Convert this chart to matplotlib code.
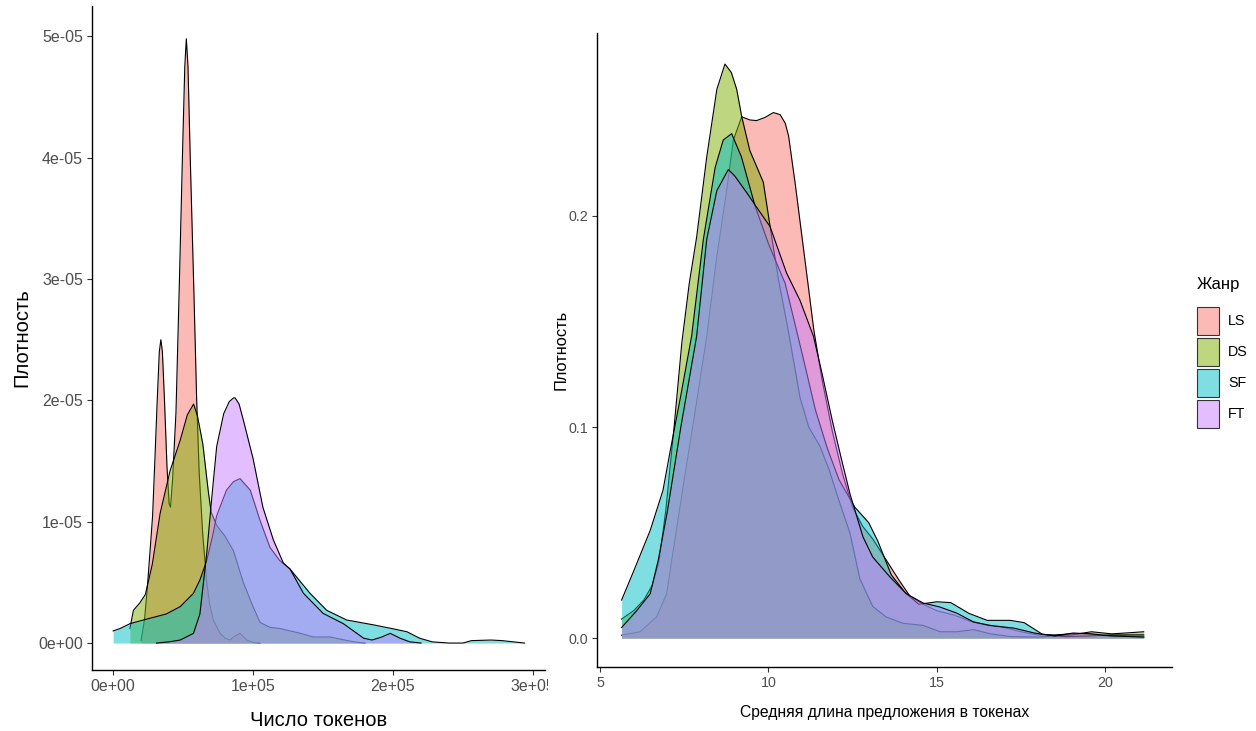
#!/usr/bin/env python3
"""
Two density plots (ggplot look): text length in tokens and mean sentence
length, by genre. Curve points were read off the original figure.
"""
import matplotlib
matplotlib.use('Agg')
import matplotlib.pyplot as plt
from matplotlib import font_manager
from matplotlib.patches import Rectangle
from matplotlib.transforms import Bbox, TransformedBbox
import numpy as np

# ---- data -------------------------------------------------------------
genres = ['LS', 'DS', 'SF', 'FT']
colors = ['#F8766D', '#7CAE00', '#00BFC4', '#C77CFF']

# left panel: x in thousands of tokens, y in 1e-5 density units
ls_tok_x = [20, 22.5, 24.4, 26.9, 28.2, 29.8, 31.5, 33, 34.1, 35.2, 36.7, 38.5, 40, 41,
            42.5, 44.9, 47.4, 49.5, 51.2, 52.3, 53.5, 55.1, 57.7, 59.7, 61.5, 64, 66.9,
            69, 71.6, 76.4, 80, 83.6, 86, 90.7, 95.5, 100, 105]
ls_tok_y = [0.02, 0.2, 0.45, 0.84, 1.05, 1.5, 2.0, 2.4, 2.5, 2.4, 2.0, 1.45, 1.15, 1.12,
            1.35, 1.9, 3.0, 4.0, 4.75, 4.98, 4.75, 4.0, 2.9, 2.0, 1.4, 0.9, 0.5,
            0.32, 0.19, 0.08, 0.04, 0.025, 0.05, 0.08, 0.025, 0.005, 0.0]

ds_tok_x = [12, 14.5, 19, 23, 28, 33.6, 40.7, 47.9, 53, 57.5, 60.3, 64.1, 67.9, 70,
            74, 80, 86, 93, 100, 105, 112, 119, 134, 143, 155, 172, 180]
ds_tok_y = [0.12, 0.27, 0.33, 0.40, 0.65, 1.07, 1.42, 1.67, 1.88, 1.97, 1.87, 1.64, 1.26, 1.08,
            0.97, 0.88, 0.76, 0.5, 0.3, 0.17, 0.13, 0.12, 0.08, 0.05, 0.05, 0.01, 0.0]

sf_tok_x = [0, 5, 12.1, 21.6, 38, 47.9, 57.4, 62, 66.9, 71, 74, 81, 86, 90.7, 98, 105,
            112, 119, 126.4, 140.7, 152.6, 166.9, 186, 199, 210, 219, 228, 240, 250,
            256, 270, 278, 294]
sf_tok_y = [0.10, 0.12, 0.16, 0.19, 0.24, 0.30, 0.41, 0.52, 0.68, 0.88, 1.05, 1.26, 1.33,
            1.355, 1.26, 1.01, 0.79, 0.68, 0.61, 0.41, 0.27, 0.19, 0.15, 0.12, 0.093,
            0.04, 0.01, 0.0, 0.0, 0.02, 0.025, 0.02, 0.0]

ft_tok_x = [31, 40, 47.9, 57.4, 62, 66.9, 70.5, 74, 79, 83, 86, 87.2, 90, 93, 100, 107,
            114.5, 121.6, 126.4, 136, 150, 164.5, 179, 185, 192, 198, 205, 212, 220]
ft_tok_y = [0.0, 0.01, 0.025, 0.08, 0.24, 0.74, 1.2, 1.62, 1.89, 1.99, 2.02, 2.02, 1.97,
            1.84, 1.52, 1.12, 0.85, 0.66, 0.61, 0.41, 0.245, 0.16, 0.04, 0.025, 0.05,
            0.08, 0.04, 0.01, 0.0]

# right panel: mean sentence length (tokens) vs density
ls_sent_x = [5.64, 6.19, 6.68, 6.98, 7.13, 7.5, 7.85, 8.17, 8.47, 8.76, 8.96, 9.21, 9.45,
             9.65, 9.9, 10.15, 10.35, 10.5, 10.6, 10.8, 11.0, 11.2, 11.35, 11.6, 11.9,
             12.2, 12.5, 12.8, 13.1, 13.5, 13.9, 14.2, 14.6, 15.0, 15.5, 16.0, 16.5,
             17.0, 17.5, 18.0, 18.5, 19.0, 19.5, 20.0, 20.5, 21.15]
ls_sent_y = [0.0014, 0.003, 0.010, 0.021, 0.037, 0.075, 0.11, 0.143, 0.181, 0.212, 0.236,
             0.247, 0.2455, 0.2452, 0.2467, 0.249, 0.248, 0.244, 0.238, 0.215, 0.19,
             0.165, 0.146, 0.122, 0.098, 0.078, 0.062, 0.053, 0.047, 0.037, 0.027, 0.02,
             0.016, 0.013, 0.011, 0.008, 0.006, 0.005, 0.003, 0.0015, 0.0015, 0.002,
             0.002, 0.001, 0.001, 0.0005]

ds_sent_x = [5.64, 6.0, 6.3, 6.55, 6.75, 6.95, 7.2, 7.43, 7.65, 7.87, 8.17, 8.47, 8.71,
             8.9, 9.06, 9.21, 9.45, 9.85, 10.1, 10.3, 10.6, 10.94, 11.2, 11.53, 11.8,
             12.1, 12.42, 12.72, 13.1, 13.5, 14.0, 14.6, 15.1, 15.6, 16.1, 16.6, 17.2,
             18.0, 19.0, 19.6, 20.2, 20.7, 21.15]
ds_sent_y = [0.009, 0.013, 0.018, 0.025, 0.036, 0.06, 0.10, 0.14, 0.168, 0.19, 0.228,
             0.26, 0.272, 0.268, 0.26, 0.247, 0.231, 0.216, 0.19, 0.17, 0.145, 0.114,
             0.1, 0.091, 0.08, 0.065, 0.05, 0.028, 0.015, 0.010, 0.007, 0.006, 0.003,
             0.003, 0.004, 0.002, 0.0007, 0.0005, 0.0015, 0.003, 0.002, 0.0025, 0.003]

sf_sent_x = [5.64, 5.98, 6.49, 6.87, 7.1, 7.4, 7.72, 8.07, 8.42, 8.66, 8.91, 9.2, 9.6,
             10.0, 10.5, 11.0, 11.4, 11.75, 12.1, 12.57, 12.98, 13.25, 13.65, 14.06,
             14.47, 15.0, 15.42, 15.96, 16.5, 17.19, 17.6, 18.14, 18.8, 19.5, 20.2,
             20.8, 21.15]
sf_sent_y = [0.018, 0.031, 0.051, 0.070, 0.09, 0.115, 0.143, 0.189, 0.223, 0.236, 0.239,
             0.228, 0.205, 0.187, 0.168, 0.135, 0.108, 0.09, 0.075, 0.062, 0.0547, 0.046,
             0.030, 0.0216, 0.016, 0.0172, 0.0168, 0.0117, 0.0084, 0.0084, 0.0073,
             0.0018, 0.0007, 0.001, 0.0015, 0.0015, 0.0015]

ft_sent_x = [5.64, 6.09, 6.49, 6.73, 7.0, 7.4, 7.87, 8.17, 8.47, 8.81, 9.0, 9.36, 9.7,
             10.05, 10.54, 10.94, 11.34, 11.6, 11.9, 12.16, 12.43, 12.81, 13.1, 13.61,
             14.1, 14.6, 15.1, 15.6, 16.1, 16.6, 17.3, 17.9, 18.5, 19.05, 19.6, 20.2,
             21.15]
ft_sent_y = [0.005, 0.013, 0.021, 0.037, 0.06, 0.10, 0.143, 0.189, 0.212, 0.222, 0.219,
             0.211, 0.203, 0.195, 0.173, 0.16, 0.143, 0.125, 0.103, 0.0855, 0.068, 0.048,
             0.0384, 0.029, 0.021, 0.0166, 0.0147, 0.0118, 0.0076, 0.006, 0.0047, 0.0024,
             0.001, 0.0024, 0.002, 0.001, 0.0005]

tok_ticks = [0, 1e5, 2e5, 3e5]
tok_tick_labels = ['0e+00', '1e+05', '2e+05', '3e+05']
tok_dens_ticks = [0, 1e-5, 2e-5, 3e-5, 4e-5, 5e-5]
tok_dens_labels = ['0e+00', '1e-05', '2e-05', '3e-05', '4e-05', '5e-05']
sent_ticks = [5, 10, 15, 20]
sent_dens_ticks = [0.0, 0.1, 0.2]
sent_dens_labels = ['0.0', '0.1', '0.2']

# ---- fonts ------------------------------------------------------------
installed = {f.name for f in font_manager.fontManager.ttflist}
REG = 'Liberation Sans' if 'Liberation Sans' in installed else 'DejaVu Sans'
NARROW = 'Liberation Sans Narrow' if 'Liberation Sans Narrow' in installed else REG
plt.rcParams['font.family'] = [REG, 'DejaVu Sans']

W, H = 1256, 731
fig = plt.figure(figsize=(W / 100, H / 100), dpi=100)
fig.patch.set_facecolor('white')


def px_axes(left, top, right, bottom):
    return fig.add_axes([left / W, 1 - bottom / H, (right - left) / W, (bottom - top) / H])


def style(ax, size, family):
    for s in ('top', 'right'):
        ax.spines[s].set_visible(False)
    for s in ('left', 'bottom'):
        ax.spines[s].set_linewidth(1.0)
        ax.spines[s].set_color('black')
        ax.spines[s].set_zorder(50)
    ax.tick_params(length=3.5, width=0.8, color='#333333', labelcolor='#4D4D4D',
                   labelsize=size, pad=3)
    for lab in ax.get_xticklabels() + ax.get_yticklabels():
        lab.set_family([family, 'DejaVu Sans'])


def draw_densities(ax, curves, xscale=1.0, yscale=1.0):
    # fill and outline of each group are drawn together, so later fills
    # veil the earlier outlines as in ggplot
    for i, ((xs, ys), col) in enumerate(zip(curves, colors)):
        x = np.asarray(xs) * xscale
        y = np.asarray(ys) * yscale
        ax.fill_between(x, 0, y, color=col, alpha=0.5, linewidth=0, zorder=2 * i + 1)
        ax.plot(x, y, color='black', lw=0.8, zorder=2 * i + 2)


# left panel
ax1 = px_axes(92, 6, 545, 670)
draw_densities(ax1, [(ls_tok_x, ls_tok_y), (ds_tok_x, ds_tok_y),
                     (sf_tok_x, sf_tok_y), (ft_tok_x, ft_tok_y)], 1e3, 1e-5)
ax1.set_xlim(-15100, 308600)
ax1.set_ylim(-0.222e-5, 5.25e-5)
ax1.set_xticks(tok_ticks)
ax1.set_xticklabels(tok_tick_labels)
ax1.set_yticks(tok_dens_ticks)
ax1.set_yticklabels(tok_dens_labels)
style(ax1, 11.5, REG)
ax1.set_xlabel('Число токенов', fontsize=14.5, color='black', labelpad=12)
ax1.set_ylabel('Плотность', fontsize=14.5, color='black', labelpad=5)
# the last x label is cut at the panel border in the original
clip = TransformedBbox(Bbox([[0, 0], [548 / W, 1]]), fig.transFigure)
last = ax1.get_xticklabels()[-1]
last.set_clip_box(clip)
last.set_clip_on(True)

# right panel
ax2 = px_axes(597, 33, 1172, 667)
draw_densities(ax2, [(ls_sent_x, ls_sent_y), (ds_sent_x, ds_sent_y),
                     (sf_sent_x, sf_sent_y), (ft_sent_x, ft_sent_y)])
ax2.set_xlim(4.91, 21.99)
ax2.set_ylim(-0.0137, 0.2867)
ax2.set_xticks(sent_ticks)
ax2.set_yticks(sent_dens_ticks)
ax2.set_yticklabels(sent_dens_labels)
style(ax2, 10.3, NARROW)
ax2.set_xlabel('Средняя длина предложения в токенах', fontsize=11.3,
               family=[NARROW, 'DejaVu Sans'], labelpad=11)
ax2.set_ylabel('Плотность', fontsize=11.8, family=[NARROW, 'DejaVu Sans'], labelpad=0)

# legend, drawn by hand to match the ggplot key boxes
fig.text(1197 / W, 1 - 285 / H, 'Жанр', fontsize=12, family=[NARROW, 'DejaVu Sans'],
         va='center', ha='left')
for i, (g, col) in enumerate(zip(genres, colors)):
    top = 307 + 31 * i
    fig.add_artist(Rectangle((1197 / W, 1 - (top + 28) / H), 22 / W, 28 / H,
                             transform=fig.transFigure, facecolor=col, alpha=0.5,
                             edgecolor='none'))
    fig.add_artist(Rectangle((1197 / W, 1 - (top + 28) / H), 22 / W, 28 / H,
                             transform=fig.transFigure, facecolor='none',
                             edgecolor='#333333', lw=0.8))
    fig.text(1228 / W, 1 - (top + 14) / H, g, fontsize=10.3,
             family=[NARROW, 'DejaVu Sans'], va='center', ha='left')

fig.savefig('out.png', dpi=100)
